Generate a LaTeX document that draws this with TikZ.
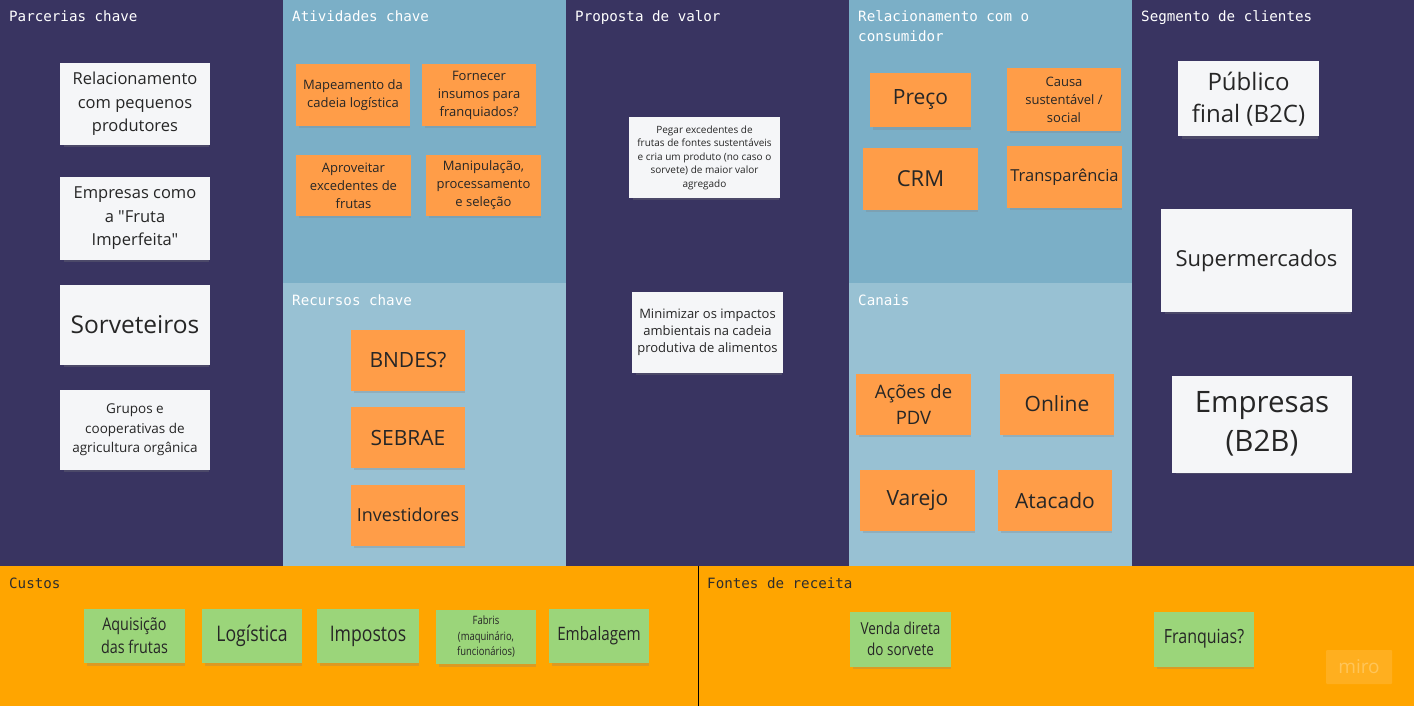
\documentclass[tikz,border=0pt]{standalone}
\usepackage{fontspec}
\setmainfont{Open Sans}
\setmonofont{DejaVu Sans Mono}
\newfontfamily\notefont{Open Sans}
\newfontfamily\condfont[FakeStretch=0.82]{Open Sans}
\usetikzlibrary{shadows}
\definecolor{bgpurple}{HTML}{393461}
\definecolor{bgblue}{HTML}{7BAFC7}
\definecolor{bgbluelight}{HTML}{98C1D3}
\definecolor{bgorange}{HTML}{FFA500}
\definecolor{stwhite}{HTML}{F5F6F8}
\definecolor{storange}{HTML}{FF9D48}
\definecolor{stgreen}{HTML}{9BD57A}
\definecolor{notetext}{HTML}{262626}
\definecolor{headdark}{HTML}{2E2E2E}
\newcommand\fs[2]{\fontsize{#1}{#2}\selectfont}
\tikzset{
  sticky/.style 2 args={rectangle, inner sep=0pt, align=center, text=notetext,
    minimum width=#1, minimum height=#2,
    drop shadow={shadow xshift=1.5pt, shadow yshift=-3.5pt, opacity=0.28, shadow scale=0.97}},
  whitenote/.style={fill=stwhite},
  orangenote/.style={fill=storange},
  greennote/.style={fill=stgreen},
  nf/.style 2 args={font=\notefont\fs{#1}{#2}},
  cf/.style 2 args={font=\condfont\fs{#1}{#2}},
  header/.style={anchor=base west, inner sep=0pt, text=white, font=\ttfamily\fs{14.2}{20}, align=left},
  headerdark/.style={header, text=headdark},
}
\begin{document}
\begin{tikzpicture}[x=1pt,y=-1pt]
\useasboundingbox (0,0) rectangle (1414,706);
% background areas
\fill[bgpurple] (0,0) rectangle (283,566);
\fill[bgblue] (283,0) rectangle (566,283);
\fill[bgbluelight] (283,283) rectangle (566,566);
\fill[bgpurple] (566,0) rectangle (849,566);
\fill[bgblue] (849,0) rectangle (1132,283);
\fill[bgbluelight] (849,283) rectangle (1132,566);
\fill[bgpurple] (1132,0) rectangle (1414,566);
\fill[bgorange] (0,566) rectangle (1414,706);
\coordinate (divtop) at (698.5,566);
\coordinate (divbot) at (698.5,706);
\draw[black, line width=1pt] (divtop) -- (divbot);

% headers
\node[header] (hpar) at (9,22) {Parcerias chave};
\node[header] (hati) at (292,22) {Atividades chave};
\node[header] (hpro) at (575,22) {Proposta de valor};
\node[header] (hrel) at (858,42) {Relacionamento com o\\consumidor};
\node[header] (hseg) at (1141,22) {Segmento de clientes};
\node[header] (hrec) at (292,305) {Recursos chave};
\node[header] (hcan) at (858,305) {Canais};
\node[headerdark] (hcus) at (9,588) {Custos};
\node[headerdark] (hfon) at (707,588) {Fontes de receita};

% Parcerias chave
\node[sticky={150pt}{82pt}, whitenote, nf={16.5}{23.5}] (p1) at (135,104) {Relacionamento\\com pequenos\\produtores};
\node[sticky={150pt}{82pt}, whitenote, nf={16.5}{23.5}] (p2) at (135,218.5) {Empresas como\\a "Fruta\\Imperfeita"};
\node[sticky={150pt}{80pt}, whitenote, nf={24.5}{30}] (p3) at (135,325) {Sorveteiros};
\node[sticky={150pt}{80pt}, whitenote, nf={13.5}{19.5}] (p4) at (135,430) {Grupos e\\cooperativas de\\agricultura orgânica};

% Atividades chave
\node[sticky={114pt}{62pt}, orangenote, nf={13}{18}] (a1) at (353,95) {Mapeamento da\\cadeia logística};
\node[sticky={114pt}{62pt}, orangenote, nf={13}{18}] (a2) at (479,95) {Fornecer\\insumos para\\franquiados?};
\node[sticky={115pt}{61pt}, orangenote, nf={13}{18}] (a3) at (353.5,185.5) {Aproveitar\\excedentes de\\frutas};
\node[sticky={115pt}{61pt}, orangenote, nf={13}{18}] (a4) at (483.5,185.5) {Manipulação,\\processamento\\e seleção};

% Recursos chave
\node[sticky={114pt}{61pt}, orangenote, nf={21}{26}] (r1) at (408,360.5) {BNDES?};
\node[sticky={114pt}{61pt}, orangenote, nf={21}{26}] (r2) at (408,437.5) {SEBRAE};
\node[sticky={114pt}{61pt}, orangenote, nf={18}{24}] (r3) at (408,515) {Investidores};

% Proposta de valor
\node[sticky={151pt}{81pt}, whitenote, nf={10}{13.5}] (v1) at (704.5,157.5) {Pegar excedentes de\\frutas de fontes sustentáveis\\e cria um produto (no caso o\\sorvete) de maior valor\\agregado};
\node[sticky={151pt}{81pt}, whitenote, nf={13}{17}] (v2) at (707.5,332.5) {Minimizar os impactos\\ambientais na cadeia\\produtiva de alimentos};

% Relacionamento com o consumidor
\node[sticky={101pt}{54pt}, orangenote, nf={21}{26}] (c1) at (920.5,100) {Preço};
\node[sticky={114pt}{63pt}, orangenote, nf={13}{18}] (c2) at (1064,99.5) {Causa\\sustentável /\\social};
\node[sticky={115pt}{62pt}, orangenote, nf={22}{26}] (c3) at (920.5,179) {CRM};
\node[sticky={115pt}{62pt}, orangenote, nf={16.5}{22}] (c4) at (1064.5,177) {Transparência};

% Canais
\node[sticky={115pt}{61pt}, orangenote, nf={18.5}{26}] (k1) at (913.5,404) {Ações de\\PDV};
\node[sticky={114pt}{61pt}, orangenote, nf={21}{26}] (k2) at (1057,404) {Online};
\node[sticky={115pt}{61pt}, orangenote, nf={21}{26}] (k3) at (917.5,500.5) {Varejo};
\node[sticky={114pt}{61pt}, orangenote, nf={21}{26}] (k4) at (1055,500.5) {Atacado};

% Segmento de clientes
\node[sticky={141pt}{75pt}, whitenote, nf={24}{32}] (s1) at (1248.5,99) {Público\\final (B2C)};
\node[sticky={191pt}{103pt}, whitenote, nf={22}{28}] (s2) at (1256.5,260.5) {Supermercados};
\node[sticky={180pt}{97pt}, whitenote, nf={29.5}{39}] (s3) at (1262,424) {Empresas\\(B2B)};

% Custos
\node[sticky={101pt}{54pt}, greennote, cf={17.5}{23}] (g1) at (134.5,636) {Aquisição\\das frutas};
\node[sticky={100pt}{54pt}, greennote, cf={21.5}{26}] (g2) at (252,636) {Logística};
\node[sticky={102pt}{54pt}, greennote, cf={21.5}{26}] (g3) at (368,636) {Impostos};
\node[sticky={100pt}{54pt}, greennote, cf={11.5}{15.5}] (g4) at (486,637) {Fabris\\(maquinário,\\funcionários)};
\node[sticky={100pt}{54pt}, greennote, cf={18.5}{24}] (g5) at (599,636) {Embalagem};

% Fontes de receita
\node[sticky={101pt}{55pt}, greennote, cf={16.5}{21}] (f1) at (900.5,639) {Venda direta\\do sorvete};
\node[sticky={100pt}{55pt}, greennote, cf={19.5}{24}] (f2) at (1204,639) {Franquias?};

% miro watermark
\node[rectangle, rounded corners=1pt, fill=white, fill opacity=0.12, text opacity=1, text=white!35!bgorange,
  minimum width=66pt, minimum height=34pt, inner sep=0pt, font=\notefont\fs{19}{22}] (miro) at (1359,667) {miro};
\end{tikzpicture}
\end{document}
